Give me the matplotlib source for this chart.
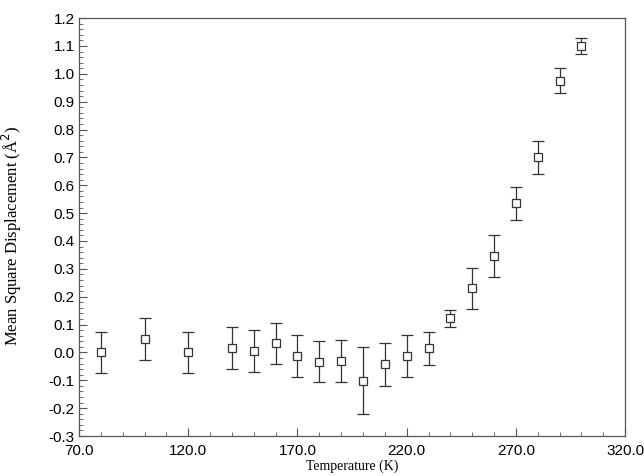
import matplotlib
matplotlib.use("Agg")
import matplotlib.pyplot as plt
import numpy as np
from matplotlib.ticker import MultipleLocator, FormatStrFormatter

# data
temperature = [80, 100, 120, 140, 150, 160, 170, 180, 190, 200,
               210, 220, 230, 240, 250, 260, 270, 280, 290, 300]
msd = [0.000, 0.047, 0.000, 0.015, 0.005, 0.033, -0.014, -0.033, -0.032, -0.101,
       -0.043, -0.014, 0.015, 0.122, 0.230, 0.347, 0.535, 0.700, 0.975, 1.100]
msd_err = [0.075, 0.075, 0.075, 0.075, 0.075, 0.074, 0.075, 0.074, 0.075, 0.120,
           0.076, 0.075, 0.060, 0.030, 0.074, 0.075, 0.060, 0.060, 0.045, 0.030]
x_ticks = [70, 120, 170, 220, 270, 320]

fig = plt.figure(figsize=(6.44, 4.76), dpi=100)
fig.set_facecolor('white')
ax = fig.add_axes([0.1227, 0.084, 0.848, 0.878])

ax.errorbar(temperature, msd, yerr=msd_err, fmt='s', mfc='white', mec='#333333',
            ms=6, mew=0.9, ecolor='#333333', elinewidth=0.9, capsize=4, capthick=0.9)

ax.set_xlim(70, 320)
ax.set_ylim(-0.3, 1.2)
ax.set_xticks(x_ticks)
ax.xaxis.set_minor_locator(MultipleLocator(10))
ax.yaxis.set_major_locator(MultipleLocator(0.1))
ax.yaxis.set_minor_locator(MultipleLocator(0.02))
ax.xaxis.set_major_formatter(FormatStrFormatter('%.1f'))
ax.yaxis.set_major_formatter(FormatStrFormatter('%.1f'))

for s in ax.spines.values():
    s.set_color('#555555')
    s.set_linewidth(0.9)

ax.tick_params(which='both', direction='in', top=False, right=False, color='#555555')
ax.tick_params(which='major', length=6, width=0.8, labelsize=11)
ax.tick_params(axis='x', which='major', pad=6)
ax.tick_params(axis='y', which='major', pad=3)
ax.tick_params(which='minor', length=3, width=0.6)
for lab in ax.get_xticklabels() + ax.get_yticklabels():
    lab.set_family('Liberation Sans')

ax.set_xlabel('Temperature (K)', family='Liberation Serif', fontsize=10, labelpad=1)
ax.set_ylabel('Mean Square Displacement (Å$^2$)', family='Liberation Serif',
              fontsize=12, labelpad=4)
ax.yaxis.set_label_coords(-0.1, 0.48)

fig.savefig('out.png', dpi=100)
